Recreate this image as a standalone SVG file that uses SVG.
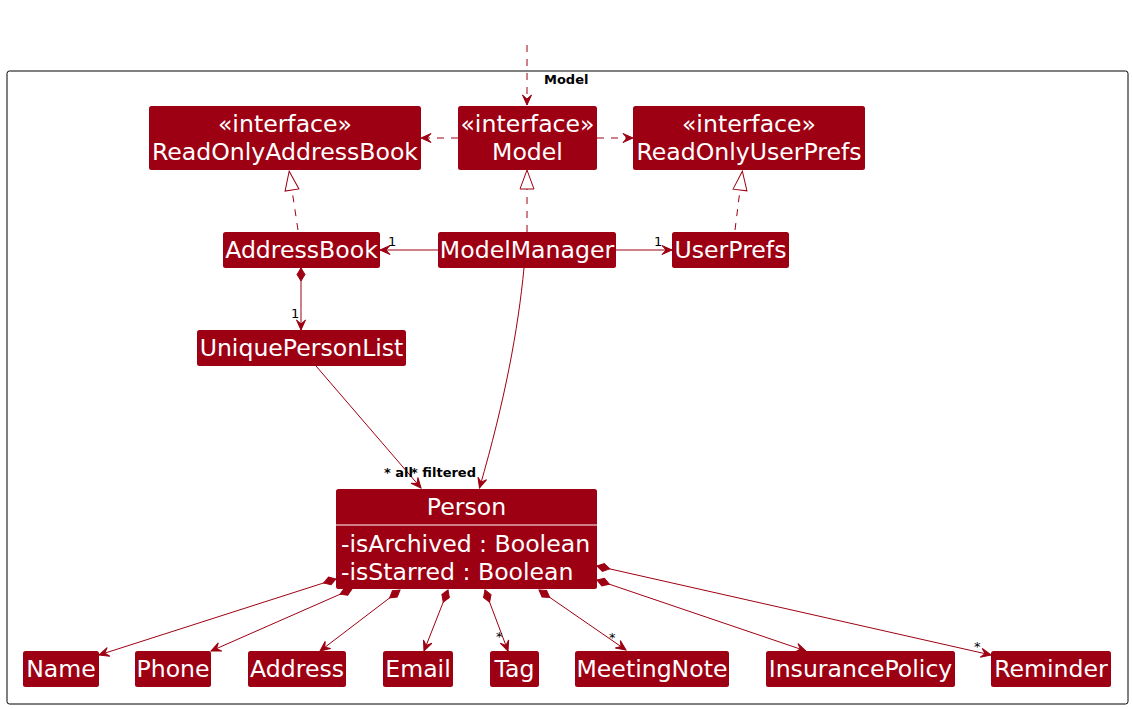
<svg xmlns="http://www.w3.org/2000/svg" width="1133" height="709" viewBox="0 0 1133 709">
<style>
.box{fill:#9D0012;}
.t{font-family:"DejaVu Sans",sans-serif;font-size:23.6px;fill:#FFFFFF;text-anchor:middle;}
.ta{font-family:"DejaVu Sans",sans-serif;font-size:23.6px;fill:#FFFFFF;}
.e{fill:none;stroke:#9D0012;stroke-width:1;}
.d{stroke-dasharray:7,7;}
.lbl{font-family:"DejaVu Sans",sans-serif;font-size:13px;fill:#000000;}
.lb{font-family:"DejaVu Sans",sans-serif;font-size:13px;font-weight:bold;fill:#000000;}
</style>
<defs>
<marker id="arr" markerUnits="userSpaceOnUse" markerWidth="1" markerHeight="1" refX="0" refY="0" orient="auto" overflow="visible">
<path d="M0,0 L-10,-4.5 L-6,0 L-10,4.5 Z" fill="#9D0012" stroke="#9D0012" stroke-width="1"/>
</marker>
<marker id="tri" markerUnits="userSpaceOnUse" markerWidth="1" markerHeight="1" refX="0" refY="0" orient="auto" overflow="visible">
<path d="M0,-7 L19,0 L0,7 Z" fill="#FFFFFF" stroke="#9D0012" stroke-width="1"/>
</marker>
<marker id="dia" markerUnits="userSpaceOnUse" markerWidth="1" markerHeight="1" refX="0" refY="0" orient="auto" overflow="visible">
<path d="M0,0 L6.5,-4 L13,0 L6.5,4 Z" fill="#9D0012" stroke="#9D0012" stroke-width="1"/>
</marker>
</defs>
<rect x="0" y="0" width="1133" height="709" fill="#FFFFFF"/>
<g id="package-model">
<rect x="7" y="71" width="1121" height="633" rx="2.5" ry="2.5" fill="none" stroke="#000000" stroke-width="1"/>
<text class="lb" x="544" y="84">Model</text>
</g>
<g id="connectors">
<path class="e d" d="M527,45 L527,105" marker-end="url(#arr)"/>
<path class="e d" d="M458,138 L421,138" marker-end="url(#arr)"/>
<path class="e d" d="M597,138 L633,138" marker-end="url(#arr)"/>
<path class="e d" d="M298,230 L292,190" marker-end="url(#tri)"/>
<path class="e d" d="M527,232 L527,189" marker-end="url(#tri)"/>
<path class="e d" d="M735,230 L740,190" marker-end="url(#tri)"/>
<path class="e" d="M438,250 L380,250" marker-end="url(#arr)"/>
<text class="lbl" x="388" y="246">1</text>
<path class="e" d="M616,250 L672,250" marker-end="url(#arr)"/>
<text class="lbl" x="654" y="246">1</text>
<path class="e" d="M301,268 L301,330" marker-start="url(#dia)" marker-end="url(#arr)"/>
<text class="lbl" x="291" y="318">1</text>
<path class="e" d="M316,366 L421,488" marker-end="url(#arr)"/>
<text class="lb" x="384" y="477">* all</text>
<text class="lb" x="411" y="477">* filtered</text>
<path class="e" d="M524,268 C518,330 505,400 479.5,488" marker-end="url(#arr)"/>
<path class="e" d="M336,579 L99,655" marker-start="url(#dia)" marker-end="url(#arr)"/>
<path class="e" d="M352,589 L211,651" marker-start="url(#dia)" marker-end="url(#arr)"/>
<path class="e" d="M400,590 L320,651" marker-start="url(#dia)" marker-end="url(#arr)"/>
<path class="e" d="M448,590 L424,651" marker-start="url(#dia)" marker-end="url(#arr)"/>
<path class="e" d="M485,590 L508,651" marker-start="url(#dia)" marker-end="url(#arr)"/>
<text class="lbl" x="496" y="641">*</text>
<path class="e" d="M539,590 L626,650" marker-start="url(#dia)" marker-end="url(#arr)"/>
<text class="lbl" x="609" y="642">*</text>
<path class="e" d="M597,580 L806,651" marker-start="url(#dia)" marker-end="url(#arr)"/>
<path class="e" d="M597,566 L991,655" marker-start="url(#dia)" marker-end="url(#arr)"/>
<text class="lbl" x="974" y="651">*</text>
</g>
<g id="node-ReadOnlyAddressBook">
<rect class="box" x="149" y="106" width="272" height="64" rx="2.5" ry="2.5"/>
<text class="t" x="285" y="132">«interface»</text>
<text class="t" x="285" y="160">ReadOnlyAddressBook</text>
</g>
<g id="node-Model">
<rect class="box" x="458" y="106" width="139" height="64" rx="2.5" ry="2.5"/>
<text class="t" x="527.5" y="132">«interface»</text>
<text class="t" x="527.5" y="160">Model</text>
</g>
<g id="node-ReadOnlyUserPrefs">
<rect class="box" x="633" y="106" width="232" height="64" rx="2.5" ry="2.5"/>
<text class="t" x="749" y="132">«interface»</text>
<text class="t" x="749" y="160">ReadOnlyUserPrefs</text>
</g>
<g id="node-AddressBook">
<rect class="box" x="223" y="232" width="157" height="36" rx="2.5" ry="2.5"/>
<text class="t" x="301.5" y="258">AddressBook</text>
</g>
<g id="node-ModelManager">
<rect class="box" x="438" y="232" width="178" height="36" rx="2.5" ry="2.5"/>
<text class="t" x="527" y="258">ModelManager</text>
</g>
<g id="node-UserPrefs">
<rect class="box" x="672" y="232" width="117" height="36" rx="2.5" ry="2.5"/>
<text class="t" x="730.5" y="258">UserPrefs</text>
</g>
<g id="node-UniquePersonList">
<rect class="box" x="197" y="330" width="209" height="36" rx="2.5" ry="2.5"/>
<text class="t" x="301.5" y="356">UniquePersonList</text>
</g>
<g id="node-Person">
<rect class="box" x="336" y="489" width="261" height="100" rx="2.5" ry="2.5"/>
<text class="t" x="466.5" y="515">Person</text>
<line x1="336" y1="525" x2="597" y2="525" stroke="#FFFFFF" stroke-width="1"/>
<text class="ta" x="341" y="552">-isArchived : Boolean</text>
<text class="ta" x="341" y="580">-isStarred : Boolean</text>
</g>
<g id="node-Name">
<rect class="box" x="23" y="651" width="76" height="36" rx="2.5" ry="2.5"/>
<text class="t" x="61" y="677">Name</text>
</g>
<g id="node-Phone">
<rect class="box" x="135" y="651" width="76" height="36" rx="2.5" ry="2.5"/>
<text class="t" x="173" y="677">Phone</text>
</g>
<g id="node-Address">
<rect class="box" x="248" y="651" width="98" height="36" rx="2.5" ry="2.5"/>
<text class="t" x="297" y="677">Address</text>
</g>
<g id="node-Email">
<rect class="box" x="383" y="651" width="70" height="36" rx="2.5" ry="2.5"/>
<text class="t" x="418" y="677">Email</text>
</g>
<g id="node-Tag">
<rect class="box" x="490" y="651" width="49" height="36" rx="2.5" ry="2.5"/>
<text class="t" x="514.5" y="677">Tag</text>
</g>
<g id="node-MeetingNote">
<rect class="box" x="575" y="651" width="154" height="36" rx="2.5" ry="2.5"/>
<text class="t" x="652" y="677">MeetingNote</text>
</g>
<g id="node-InsurancePolicy">
<rect class="box" x="766" y="651" width="189" height="36" rx="2.5" ry="2.5"/>
<text class="t" x="860.5" y="677">InsurancePolicy</text>
</g>
<g id="node-Reminder">
<rect class="box" x="991" y="651" width="120" height="36" rx="2.5" ry="2.5"/>
<text class="t" x="1051" y="677">Reminder</text>
</g>
</svg>
